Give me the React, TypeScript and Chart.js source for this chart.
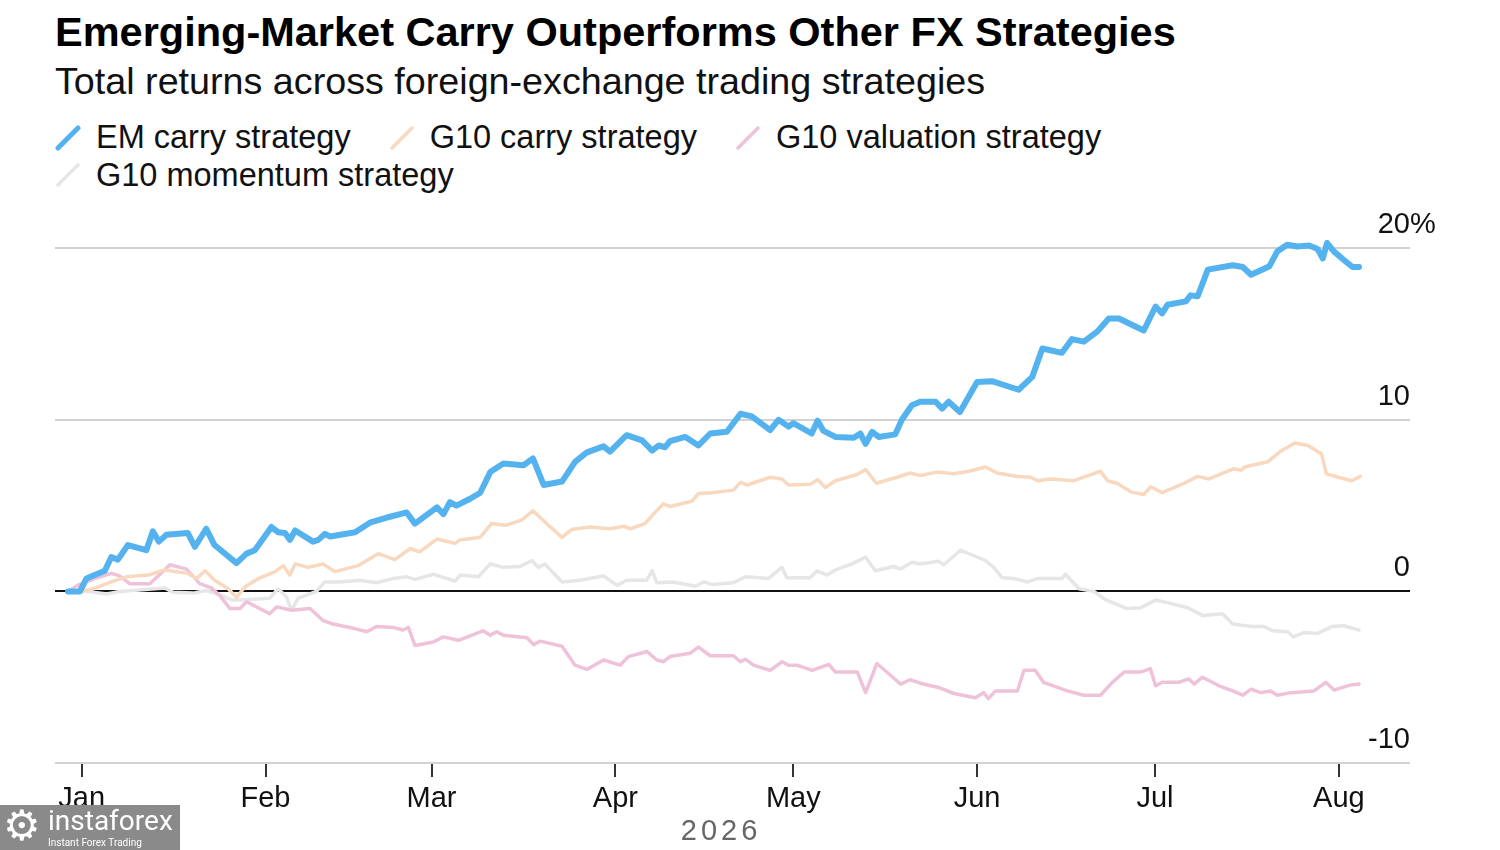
import React, { useEffect, useRef } from "react";
import { Chart, registerables } from "chart.js";

Chart.register(...registerables);

const FONT = '"Liberation Sans", Arial, Helvetica, sans-serif';

// ---- axis labels ----
const monthLabels = ["Jan", "Feb", "Mar", "Apr", "May", "Jun", "Jul", "Aug"];
const monthStartDays = [0, 31, 59, 90, 120, 151, 181, 212]; // days since Jan 1, 2026
const yearLabel = "2026";
const yTickValues = [20, 10, 0, -10];
const yTickLabels = ["20%", "10", "0", "-10"];

// ---- series ----
const seriesNames = ["EM carry strategy", "G10 carry strategy", "G10 valuation strategy", "G10 momentum strategy"];
const seriesColors = ["#54b2ee", "#f8d8bf", "#efc2d9", "#e6e6e6"];

const emCarryDays = [-2.3, -0.3, 0.8, 3.9, 5.0, 6.1, 7.8, 10.9, 12.0, 13.0, 14.3, 17.9, 19.1, 21.0, 22.4, 26.1, 27.8, 29.2, 32.0, 33.1, 34.3, 35.1, 36.0, 39.0, 39.9, 41.0, 41.9, 46.1, 48.6, 52.0, 54.8, 56.2, 59.9, 61.0, 62.1, 63.2, 65.5, 67.2, 68.9, 71.1, 74.5, 76.1, 77.9, 81.0, 83.2, 85.2, 88.0, 89.1, 91.9, 94.5, 96.2, 97.3, 98.4, 99.2, 101.8, 104.0, 106.0, 108.8, 111.1, 113.0, 116.1, 117.5, 119.2, 120.0, 123.1, 124.1, 125.1, 127.1, 130.2, 131.3, 132.2, 133.3, 134.4, 137.2, 138.3, 140.0, 141.4, 144.0, 145.1, 146.2, 148.1, 151.0, 153.5, 158.0, 160.3, 162.0, 165.3, 167.0, 169.0, 171.3, 173.2, 174.9, 179.1, 181.1, 182.2, 183.1, 186.2, 187.0, 188.2, 189.9, 194.1, 195.8, 197.2, 200.3, 201.6, 203.3, 205.0, 207.0, 208.4, 209.3, 210.0, 211.2, 212.9, 214.3, 215.4];
const emCarryValues = [0, 0, 0.75, 1.2, 2.0, 1.85, 2.7, 2.4, 3.5, 2.9, 3.3, 3.4, 2.6, 3.65, 2.7, 1.65, 2.2, 2.4, 3.75, 3.45, 3.4, 3.0, 3.55, 2.9, 3.0, 3.35, 3.2, 3.45, 4.0, 4.35, 4.6, 3.95, 4.9, 4.5, 5.2, 5.0, 5.4, 5.75, 6.95, 7.45, 7.35, 7.75, 6.2, 6.4, 7.55, 8.1, 8.45, 8.15, 9.1, 8.8, 8.2, 8.5, 8.4, 8.75, 9.0, 8.5, 9.2, 9.3, 10.35, 10.2, 9.4, 10.0, 9.6, 9.8, 9.2, 9.95, 9.35, 9.0, 8.95, 9.2, 8.6, 9.3, 9.0, 9.15, 10.0, 10.85, 11.05, 11.05, 10.65, 11.05, 10.45, 12.2, 12.25, 11.75, 12.5, 14.15, 13.9, 14.7, 14.55, 15.15, 15.9, 15.9, 15.2, 16.6, 16.2, 16.7, 16.9, 17.25, 17.2, 18.75, 19.0, 18.9, 18.45, 18.95, 19.8, 20.2, 20.1, 20.15, 19.95, 19.4, 20.3, 19.8, 19.3, 18.9, 18.9];

const g10CarryDays = [-2.3, 1.6, 5.0, 7.5, 11.2, 14.0, 17.9, 19.4, 20.8, 22.4, 24.7, 26.1, 27.5, 29.8, 32.6, 34.0, 35.1, 36.0, 38.2, 40.7, 42.7, 46.6, 50.0, 52.8, 55.4, 57.0, 59.9, 63.0, 63.8, 67.2, 69.1, 71.4, 74.2, 76.1, 78.4, 81.0, 82.6, 85.7, 89.1, 91.4, 92.5, 95.0, 96.4, 98.1, 99.2, 102.9, 104.0, 106.3, 109.9, 111.1, 112.2, 116.1, 118.1, 119.2, 122.9, 124.1, 125.4, 127.1, 130.7, 132.2, 134.0, 137.5, 139.7, 141.4, 144.2, 147.1, 149.6, 152.4, 154.4, 157.8, 160.0, 161.2, 163.4, 167.3, 171.8, 173.0, 174.6, 176.9, 179.1, 180.3, 182.2, 185.9, 188.2, 190.1, 194.3, 195.5, 196.1, 200.0, 202.3, 204.6, 206.8, 209.1, 209.9, 211.9, 214.2, 215.6];
const g10CarryValues = [0, 0.1, 0.55, 0.85, 0.95, 1.25, 1.05, 0.75, 1.2, 0.65, 0.15, -0.35, 0.25, 0.75, 1.15, 1.5, 0.95, 1.6, 1.4, 1.6, 1.15, 1.5, 2.2, 1.85, 2.5, 2.3, 3.05, 2.8, 3.0, 3.15, 3.95, 3.85, 4.15, 4.7, 3.95, 3.15, 3.6, 3.75, 3.65, 3.8, 3.65, 3.95, 4.5, 5.1, 4.95, 5.25, 5.7, 5.75, 5.9, 6.35, 6.2, 6.65, 6.55, 6.2, 6.25, 6.5, 6.05, 6.45, 6.8, 7.1, 6.3, 6.65, 6.9, 6.75, 6.95, 6.85, 7.0, 7.25, 6.9, 6.7, 6.65, 6.45, 6.55, 6.45, 7.0, 6.45, 6.3, 5.8, 5.65, 6.1, 5.75, 6.3, 6.7, 6.55, 7.15, 7.05, 7.25, 7.55, 8.2, 8.65, 8.5, 8.0, 6.85, 6.65, 6.45, 6.7];

const g10ValuationDays = [-2.3, -0.7, 2.2, 5.0, 6.4, 8.1, 11.5, 14.9, 17.7, 19.9, 21.9, 23.3, 25.0, 26.7, 27.8, 31.7, 32.9, 35.4, 38.5, 40.7, 42.4, 45.2, 48.1, 49.7, 52.5, 54.2, 55.1, 56.2, 59.3, 61.0, 63.5, 67.7, 68.9, 70.0, 71.1, 75.1, 76.2, 77.3, 81.0, 83.2, 85.2, 88.0, 90.8, 92.2, 95.3, 97.0, 98.1, 99.2, 102.6, 104.0, 106.0, 109.9, 111.1, 111.9, 113.3, 116.1, 118.1, 119.2, 120.6, 123.2, 126.0, 127.1, 130.8, 132.2, 134.1, 136.1, 138.1, 139.7, 141.4, 144.5, 147.1, 150.7, 152.1, 152.9, 154.1, 157.8, 158.9, 160.8, 162.2, 166.2, 169.0, 171.8, 173.8, 175.8, 178.6, 180.2, 181.1, 182.2, 185.0, 186.7, 187.6, 189.0, 191.8, 194.1, 195.8, 197.2, 198.8, 200.5, 201.6, 203.9, 207.8, 209.8, 211.2, 214.0, 215.4];
const g10ValuationValues = [0, 0.35, 0.75, 1.05, 0.9, 0.45, 0.45, 1.55, 1.3, 0.45, 0.2, -0.25, -1.0, -1.0, -0.6, -1.3, -0.9, -1.1, -1.0, -1.7, -1.9, -2.1, -2.35, -2.05, -2.1, -2.25, -2.1, -3.15, -2.95, -2.65, -2.85, -2.3, -2.55, -2.35, -2.55, -2.7, -3.1, -2.9, -3.2, -4.3, -4.55, -4.0, -4.3, -3.8, -3.5, -4.0, -4.1, -3.8, -3.6, -3.25, -3.75, -3.75, -4.1, -3.95, -4.3, -4.6, -4.1, -4.3, -4.3, -4.6, -4.25, -4.7, -4.7, -5.9, -4.2, -4.8, -5.4, -5.15, -5.35, -5.6, -5.95, -6.2, -5.9, -6.25, -5.8, -5.8, -4.6, -4.6, -5.3, -5.8, -6.05, -6.05, -5.3, -4.7, -4.7, -4.5, -5.5, -5.3, -5.3, -5.1, -5.4, -5.0, -5.5, -5.8, -6.05, -5.7, -5.9, -5.8, -6.05, -5.9, -5.8, -5.3, -5.75, -5.45, -5.4];

const g10MomentumDays = [-2.3, 1.0, 4.2, 6.4, 14.0, 15.4, 18.8, 21.0, 23.3, 25.3, 26.7, 31.7, 33.1, 34.5, 35.4, 36.5, 39.6, 41.0, 43.5, 46.9, 49.7, 52.5, 54.8, 56.2, 59.3, 63.0, 63.8, 66.9, 68.9, 71.1, 73.9, 75.9, 77.0, 78.1, 81.0, 84.0, 88.0, 90.3, 91.9, 95.3, 96.2, 97.0, 99.8, 103.5, 104.9, 106.3, 109.9, 111.9, 115.8, 118.1, 118.9, 122.9, 124.0, 125.7, 127.1, 129.9, 132.2, 133.8, 136.9, 138.1, 140.0, 141.4, 144.5, 145.4, 148.2, 152.4, 153.8, 155.2, 157.2, 159.5, 161.2, 165.3, 165.9, 168.2, 170.7, 172.7, 176.3, 178.6, 181.1, 183.6, 186.5, 189.0, 192.4, 194.1, 197.2, 199.4, 200.9, 203.4, 204.3, 206.1, 208.4, 210.8, 212.8, 215.4];
const g10MomentumValues = [0, 0, -0.15, 0, 0.2, -0.05, -0.1, 0.05, -0.2, -0.5, -0.5, -0.4, 0.15, -0.3, -1.1, -0.4, 0, 0.55, 0.55, 0.65, 0.5, 0.75, 0.85, 0.7, 1.0, 0.6, 0.95, 0.85, 1.6, 1.4, 1.45, 1.8, 1.4, 1.6, 0.55, 0.65, 0.9, 0.35, 0.65, 0.65, 1.2, 0.5, 0.55, 0.3, 0.55, 0.4, 0.5, 0.85, 0.75, 1.4, 0.8, 0.8, 1.2, 0.95, 1.25, 1.6, 2.0, 1.2, 1.45, 1.3, 1.7, 1.6, 1.75, 1.55, 2.4, 1.8, 1.4, 0.8, 0.75, 0.55, 0.75, 0.75, 1.0, 0.15, 0, -0.5, -1.0, -0.95, -0.5, -0.7, -0.95, -1.4, -1.3, -1.9, -2.05, -2.05, -2.3, -2.35, -2.65, -2.4, -2.45, -2.05, -2.0, -2.25];

const seriesDays = [emCarryDays, g10CarryDays, g10ValuationDays, g10MomentumDays];
const seriesValues = [emCarryValues, g10CarryValues, g10ValuationValues, g10MomentumValues];
const seriesWidths = [6, 3.5, 3.5, 3.5];

const TITLE_LINE = 28;
const TITLE_PAD_BOTTOM = 2;

const labelPlugin = {
  id: "customLabels",
  afterDraw(chart: any) {
    const { ctx, chartArea, scales } = chart;
    const y = scales.y;
    const x = scales.x;
    ctx.save();
    // right-hand value labels above gridlines
    ctx.font = `29px ${FONT}`;
    ctx.fillStyle = "#111";
    ctx.textBaseline = "middle";
    ctx.textAlign = "left";
    yTickValues.forEach((v, i) => {
      const label = yTickLabels[i];
      const num = label.replace("%", "");
      const w = ctx.measureText(num).width;
      const py = y.getPixelForValue(v) - 23;
      ctx.fillText(label, chartArea.right - w, py);
    });
    // year label centred under the data span
    const allDays = seriesDays.flat();
    const cx = (x.getPixelForValue(Math.min(...allDays)) + x.getPixelForValue(Math.max(...allDays))) / 2;
    ctx.font = `29px ${FONT}`;
    (ctx as any).letterSpacing = "4px";
    ctx.fillStyle = "#666";
    ctx.textAlign = "center";
    ctx.fillText(yearLabel, cx + 7, x.bottom - 18);
    ctx.restore();
  },
};

function LegendMark({ color, width }: { color: string; width: number }) {
  return (
    <svg width="26" height="26" style={{ flex: "0 0 auto", marginRight: 15 }}>
      <line x1="3" y1="23" x2="23" y2="3" stroke={color} strokeWidth={width} strokeLinecap="round" />
    </svg>
  );
}

export default function App() {
  const canvasRef = useRef<HTMLCanvasElement | null>(null);

  useEffect(() => {
    if (!canvasRef.current) return;
    const datasets = seriesNames.map((name, s) => ({
      label: name,
      data: seriesDays[s].map((d, i) => ({ x: d, y: seriesValues[s][i] })),
      borderColor: seriesColors[s],
      backgroundColor: seriesColors[s],
      borderWidth: seriesWidths[s],
      pointRadius: 0,
      tension: 0,
      borderJoinStyle: "round" as const,
      borderCapStyle: "round" as const,
      fill: false,
    }));
    const chart = new Chart(canvasRef.current, {
      type: "line",
      data: { datasets },
      options: {
        animation: false,
        responsive: true,
        maintainAspectRatio: false,
        layout: { padding: { left: 55, right: 90, top: 31, bottom: 0 } },
        plugins: { legend: { display: false }, tooltip: { enabled: false } },
        scales: {
          x: {
            type: "linear",
            min: -4.5,
            max: 224,
            afterBuildTicks: (axis: any) => {
              axis.ticks = monthStartDays.map((v) => ({ value: v }));
            },
            ticks: {
              autoSkip: false,
              maxRotation: 0,
              padding: 7,
              color: "#111",
              font: { family: FONT, size: 29, lineHeight: 1 },
              callback: (v: any) => {
                const i = monthStartDays.indexOf(Number(v));
                return i >= 0 ? monthLabels[i] : "";
              },
            },
            grid: { drawOnChartArea: false, drawTicks: true, tickLength: 14, color: "#333", lineWidth: 2 },
            border: { display: false },
            title: {
              display: true,
              text: yearLabel,
              color: "rgba(0,0,0,0)",
              font: { family: FONT, size: 28, lineHeight: TITLE_LINE / 28 },
              padding: { top: 0, bottom: TITLE_PAD_BOTTOM },
            },
          },
          y: {
            type: "linear",
            min: -10,
            max: 21,
            afterBuildTicks: (axis: any) => {
              axis.ticks = yTickValues.map((v) => ({ value: v }));
            },
            ticks: { display: false },
            grid: {
              drawTicks: false,
              color: (c: any) => (c.tick && c.tick.value === 0 ? "#111" : "#d2d2d2"),
              lineWidth: 2,
            },
            border: { display: false },
          },
        },
      },
      plugins: [labelPlugin],
    });
    return () => chart.destroy();
  }, []);

  return (
    <div style={{ position: "absolute", left: 0, top: 0, width: 1500, height: 850, background: "#fff", fontFamily: FONT, overflow: "hidden" }}>
      <div style={{ position: "absolute", left: 55, top: 11, fontSize: 41.5, lineHeight: "41.5px", fontWeight: 700, color: "#000", whiteSpace: "nowrap" }}>
        Emerging-Market Carry Outperforms Other FX Strategies
      </div>
      <div style={{ position: "absolute", left: 55, top: 63, fontSize: 37.7, lineHeight: "37.7px", color: "#111", whiteSpace: "nowrap" }}>
        Total returns across foreign-exchange trading strategies
      </div>
      <div style={{ position: "absolute", left: 55, top: 119, width: 1120, display: "flex", flexWrap: "wrap", columnGap: 38 }}>
        {seriesNames.map((n, i) => (
          <div key={n} style={{ display: "flex", alignItems: "center", height: 37.5, fontSize: 32.5, lineHeight: "37.5px", color: "#111", whiteSpace: "nowrap" }}>
            <LegendMark color={seriesColors[i]} width={i === 0 ? 5 : 3.5} />
            {n}
          </div>
        ))}
      </div>
      <div style={{ position: "absolute", left: 0, top: 200, width: 1500, height: 650 }}>
        <canvas ref={canvasRef} />
      </div>
      <div style={{ position: "absolute", left: 0, top: 805, width: 180, height: 45, background: "#8a8a8a", color: "#fff", zIndex: 2 }}>
        <div style={{ position: "absolute", left: 3, top: 0, fontSize: 42, lineHeight: "42px", fontFamily: '"DejaVu Sans", sans-serif' }}>⚙</div>
        <div style={{ position: "absolute", left: 48, top: 1, fontSize: 28, lineHeight: "30px", fontFamily: 'Roboto, "Liberation Sans", sans-serif' }}>instaforex</div>
        <div style={{ position: "absolute", left: 48, top: 33, fontSize: 10, lineHeight: "10px", fontFamily: 'Roboto, "Liberation Sans", sans-serif' }}>Instant Forex Trading</div>
      </div>
    </div>
  );
}
